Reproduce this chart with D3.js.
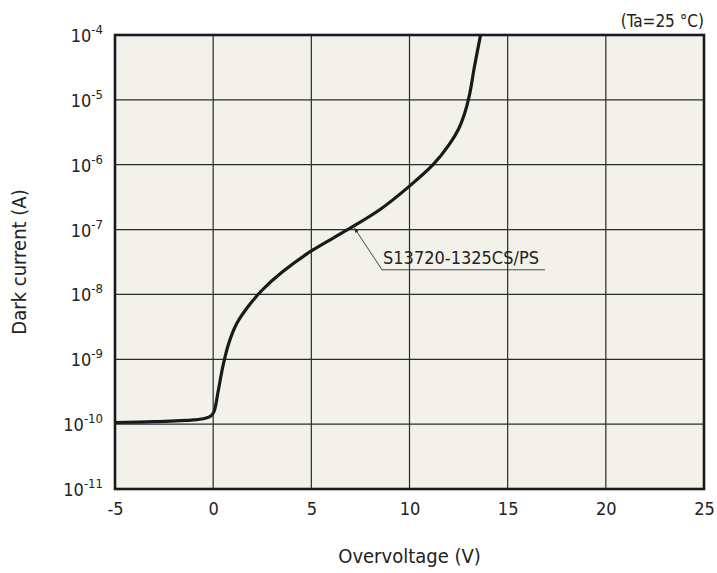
<!DOCTYPE html>
<html>
<head>
<meta charset="utf-8">
<script src="https://cdn.jsdelivr.net/npm/d3@7"></script>
<style>
  body { margin: 0; background: #fff; }
  text { font-family: "DejaVu Sans Condensed", "Liberation Sans", sans-serif; fill: #222; }
</style>
</head>
<body>
<div id="chart"></div>
<script>
// overvoltage (V) vs dark current (A)
var voltage = [-5, -3, -1, -0.4, -0.1, 0.05, 0.25, 0.5, 0.8, 1.2, 1.8, 2.5, 3.5, 5, 6.8, 8.5, 10, 11.2, 12, 12.5, 12.8, 13.05, 13.3, 13.62];
var current = [1.06e-10, 1.09e-10, 1.16e-10, 1.23e-10, 1.35e-10, 1.58e-10, 3.16e-10, 7.94e-10, 1.78e-9, 3.55e-9, 6.61e-9, 1.17e-8, 2.19e-8, 4.68e-8, 9.77e-8, 2.04e-7, 4.68e-7, 1.0e-6, 2.0e-6, 3.55e-6, 6.03e-6, 1.17e-5, 3.16e-5, 1e-4];

var xTicks = [-5, 0, 5, 10, 15, 20, 25];
var yExponents = [-4, -5, -6, -7, -8, -9, -10, -11];

var seriesLabel = "S13720-1325CS/PS";
// annotation: arrow tip on the curve, elbow, end of underline (data units)
var labelTip = [7.2, 1.05e-7];
var labelElbow = [8.6, 2.4e-8];
var labelEnd = 16.9;

var W = 717, H = 573;
var margin = {left: 115, top: 35, right: 13, bottom: 84};
var w = W - margin.left - margin.right, h = H - margin.top - margin.bottom;

var svg = d3.select("#chart").append("svg").attr("width", W).attr("height", H);
var g = svg.append("g").attr("transform", "translate(" + margin.left + "," + margin.top + ")");

var x = d3.scaleLinear().domain([-5, 25]).range([0, w]);
var y = d3.scaleLog().domain([1e-11, 1e-4]).range([h, 0]);

g.append("rect").attr("width", w).attr("height", h).attr("fill", "#f2f1ea");

// grid
g.selectAll(".vgrid").data(xTicks).enter().append("line")
    .attr("x1", function(d){ return x(d); }).attr("x2", function(d){ return x(d); })
    .attr("y1", 0).attr("y2", h)
    .attr("stroke", "#2b2b2b").attr("stroke-width", 1.2);
g.selectAll(".hgrid").data(yExponents).enter().append("line")
    .attr("y1", function(d){ return y(Math.pow(10, d)); }).attr("y2", function(d){ return y(Math.pow(10, d)); })
    .attr("x1", 0).attr("x2", w)
    .attr("stroke", "#2b2b2b").attr("stroke-width", 1.2);

// x axis labels
var xAxis = d3.axisBottom(x).tickValues(xTicks).tickSize(0).tickPadding(13)
    .tickFormat(function(d){ return String(d); });
var xa = g.append("g").attr("transform", "translate(0," + h + ")").call(xAxis);
xa.select(".domain").remove();
xa.selectAll("text").attr("font-size", 18).attr("fill", "#222")
    .style("font-family", "'DejaVu Sans Condensed', 'Liberation Sans', sans-serif");

// y axis labels with superscripts
var yl = g.selectAll(".ylab").data(yExponents).enter().append("text")
    .attr("x", -12).attr("y", function(d){ return y(Math.pow(10, d)) + 7; })
    .attr("text-anchor", "end").attr("font-size", 18);
yl.append("tspan").text("10");
yl.append("tspan").attr("font-size", 13).attr("dy", -8).text(function(d){ return String(d); });

// curve
var pts = voltage.map(function(v, i){ return [v, current[i]]; });
var line = d3.line()
    .x(function(d){ return x(d[0]); })
    .y(function(d){ return y(d[1]); })
    .curve(d3.curveCatmullRom.alpha(0.5));

g.append("clipPath").attr("id", "clip").append("rect").attr("width", w).attr("height", h);
g.append("path").datum(pts)
    .attr("d", line)
    .attr("fill", "none")
    .attr("stroke", "#1a1a1a")
    .attr("stroke-width", 3.2)
    .attr("stroke-linejoin", "round")
    .attr("clip-path", "url(#clip)");

// frame
g.append("rect").attr("width", w).attr("height", h)
    .attr("fill", "none").attr("stroke", "#1a1a1a").attr("stroke-width", 2.6);

// annotation
svg.append("defs").append("marker")
    .attr("id", "arr").attr("viewBox", "0 0 10 10").attr("refX", 10).attr("refY", 5)
    .attr("markerWidth", 7).attr("markerHeight", 5).attr("orient", "auto")
    .append("path").attr("d", "M0,1 L10,5 L0,9 z").attr("fill", "#222");

g.append("polyline")
    .attr("points", [[x(labelEnd), y(labelElbow[1])], [x(labelElbow[0]), y(labelElbow[1])], [x(labelTip[0]), y(labelTip[1])]].map(function(p){ return p.join(","); }).join(" "))
    .attr("fill", "none").attr("stroke", "#333").attr("stroke-width", 0.9)
    .attr("marker-end", "url(#arr)");
g.append("text")
    .attr("x", x(labelElbow[0]) + 1).attr("y", y(labelElbow[1]) - 6)
    .attr("font-size", 18).text(seriesLabel);

// titles
svg.append("text").attr("x", margin.left + w).attr("y", 27)
    .attr("text-anchor", "end").attr("font-size", 17).text("(Ta=25 °C)");
svg.append("text").attr("x", margin.left + w / 2).attr("y", 563)
    .attr("text-anchor", "middle").attr("font-size", 20).text("Overvoltage (V)");
svg.append("text")
    .attr("transform", "translate(26," + (margin.top + h / 2) + ") rotate(-90)")
    .attr("text-anchor", "middle").attr("font-size", 20).text("Dark current (A)");
</script>
</body>
</html>
